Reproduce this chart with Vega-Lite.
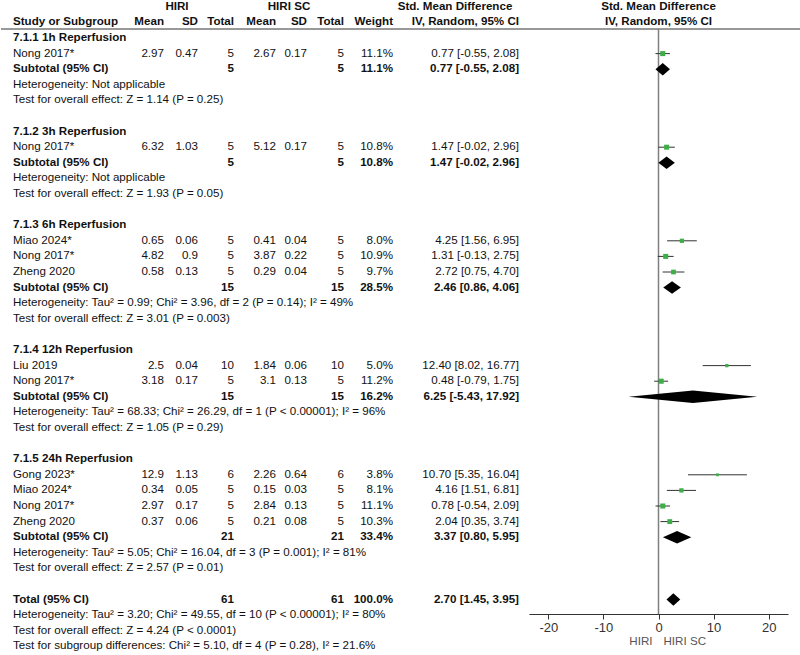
{
  "$schema": "https://vega.github.io/schema/vega-lite/v6.json",
  "padding": 0,
  "spacing": 0,
  "bounds": "flush",
  "config": {
    "view": {"stroke": null},
    "text": {"font": "Liberation Sans", "fontSize": 11.6, "color": "#111111", "baseline": "middle"},
    "axis": {"labelFont": "Liberation Sans", "labelFontSize": 13, "labelColor": "#333333", "domainColor": "#333333", "tickColor": "#333333", "tickSize": 5, "grid": false, "labelPadding": 2, "labelExpr": "'' + datum.value"}
  },
  "resolve": {"scale": {"y": "independent", "x": "independent"}},
  "datasets": {
    "rows": [
      {"row": -2, "kind": "group", "sd1": "HIRI", "sd2": "HIRI SC", "ci": "Std. Mean Difference", "p": "Std. Mean Difference"},
      {"row": -1, "kind": "header", "s": "Study or Subgroup", "m1": "Mean", "sd1": "SD", "n1": "Total", "m2": "Mean", "sd2": "SD", "n2": "Total", "w": "Weight", "ci": "IV, Random, 95% CI", "p": "IV, Random, 95% CI"},
      {"row": 0, "kind": "section", "s": "7.1.1 1h Reperfusion"},
      {"row": 1, "kind": "study", "s": "Nong 2017*", "m1": "2.97", "sd1": "0.47", "n1": "5", "m2": "2.67", "sd2": "0.17", "n2": "5", "w": "11.1%", "ci": "0.77 [-0.55, 2.08]", "est": 0.77, "lo": -0.55, "hi": 2.08, "wt": 11.1},
      {"row": 2, "kind": "subtotal", "s": "Subtotal (95% CI)", "n1": "5", "n2": "5", "w": "11.1%", "ci": "0.77 [-0.55, 2.08]", "est": 0.77, "lo": -0.55, "hi": 2.08},
      {"row": 3, "kind": "note", "s": "Heterogeneity: Not applicable"},
      {"row": 4, "kind": "note", "s": "Test for overall effect: Z = 1.14 (P = 0.25)"},
      {"row": 6, "kind": "section", "s": "7.1.2 3h Reperfusion"},
      {"row": 7, "kind": "study", "s": "Nong 2017*", "m1": "6.32", "sd1": "1.03", "n1": "5", "m2": "5.12", "sd2": "0.17", "n2": "5", "w": "10.8%", "ci": "1.47 [-0.02, 2.96]", "est": 1.47, "lo": -0.02, "hi": 2.96, "wt": 10.8},
      {"row": 8, "kind": "subtotal", "s": "Subtotal (95% CI)", "n1": "5", "n2": "5", "w": "10.8%", "ci": "1.47 [-0.02, 2.96]", "est": 1.47, "lo": -0.02, "hi": 2.96},
      {"row": 9, "kind": "note", "s": "Heterogeneity: Not applicable"},
      {"row": 10, "kind": "note", "s": "Test for overall effect: Z = 1.93 (P = 0.05)"},
      {"row": 12, "kind": "section", "s": "7.1.3 6h Reperfusion"},
      {"row": 13, "kind": "study", "s": "Miao 2024*", "m1": "0.65", "sd1": "0.06", "n1": "5", "m2": "0.41", "sd2": "0.04", "n2": "5", "w": "8.0%", "ci": "4.25 [1.56, 6.95]", "est": 4.25, "lo": 1.56, "hi": 6.95, "wt": 8.0},
      {"row": 14, "kind": "study", "s": "Nong 2017*", "m1": "4.82", "sd1": "0.9", "n1": "5", "m2": "3.87", "sd2": "0.22", "n2": "5", "w": "10.9%", "ci": "1.31 [-0.13, 2.75]", "est": 1.31, "lo": -0.13, "hi": 2.75, "wt": 10.9},
      {"row": 15, "kind": "study", "s": "Zheng 2020", "m1": "0.58", "sd1": "0.13", "n1": "5", "m2": "0.29", "sd2": "0.04", "n2": "5", "w": "9.7%", "ci": "2.72 [0.75, 4.70]", "est": 2.72, "lo": 0.75, "hi": 4.70, "wt": 9.7},
      {"row": 16, "kind": "subtotal", "s": "Subtotal (95% CI)", "n1": "15", "n2": "15", "w": "28.5%", "ci": "2.46 [0.86, 4.06]", "est": 2.46, "lo": 0.86, "hi": 4.06},
      {"row": 17, "kind": "note", "s": "Heterogeneity: Tau² = 0.99; Chi² = 3.96, df = 2 (P = 0.14); I² = 49%"},
      {"row": 18, "kind": "note", "s": "Test for overall effect: Z = 3.01 (P = 0.003)"},
      {"row": 20, "kind": "section", "s": "7.1.4 12h Reperfusion"},
      {"row": 21, "kind": "study", "s": "Liu 2019", "m1": "2.5", "sd1": "0.04", "n1": "10", "m2": "1.84", "sd2": "0.06", "n2": "10", "w": "5.0%", "ci": "12.40 [8.02, 16.77]", "est": 12.40, "lo": 8.02, "hi": 16.77, "wt": 5.0},
      {"row": 22, "kind": "study", "s": "Nong 2017*", "m1": "3.18", "sd1": "0.17", "n1": "5", "m2": "3.1", "sd2": "0.13", "n2": "5", "w": "11.2%", "ci": "0.48 [-0.79, 1.75]", "est": 0.48, "lo": -0.79, "hi": 1.75, "wt": 11.2},
      {"row": 23, "kind": "subtotal", "s": "Subtotal (95% CI)", "n1": "15", "n2": "15", "w": "16.2%", "ci": "6.25 [-5.43, 17.92]", "est": 6.25, "lo": -5.43, "hi": 17.92},
      {"row": 24, "kind": "note", "s": "Heterogeneity: Tau² = 68.33; Chi² = 26.29, df = 1 (P < 0.00001); I² = 96%"},
      {"row": 25, "kind": "note", "s": "Test for overall effect: Z = 1.05 (P = 0.29)"},
      {"row": 27, "kind": "section", "s": "7.1.5 24h Reperfusion"},
      {"row": 28, "kind": "study", "s": "Gong 2023*", "m1": "12.9", "sd1": "1.13", "n1": "6", "m2": "2.26", "sd2": "0.64", "n2": "6", "w": "3.8%", "ci": "10.70 [5.35, 16.04]", "est": 10.70, "lo": 5.35, "hi": 16.04, "wt": 3.8},
      {"row": 29, "kind": "study", "s": "Miao 2024*", "m1": "0.34", "sd1": "0.05", "n1": "5", "m2": "0.15", "sd2": "0.03", "n2": "5", "w": "8.1%", "ci": "4.16 [1.51, 6.81]", "est": 4.16, "lo": 1.51, "hi": 6.81, "wt": 8.1},
      {"row": 30, "kind": "study", "s": "Nong 2017*", "m1": "2.97", "sd1": "0.17", "n1": "5", "m2": "2.84", "sd2": "0.13", "n2": "5", "w": "11.1%", "ci": "0.78 [-0.54, 2.09]", "est": 0.78, "lo": -0.54, "hi": 2.09, "wt": 11.1},
      {"row": 31, "kind": "study", "s": "Zheng 2020", "m1": "0.37", "sd1": "0.06", "n1": "5", "m2": "0.21", "sd2": "0.08", "n2": "5", "w": "10.3%", "ci": "2.04 [0.35, 3.74]", "est": 2.04, "lo": 0.35, "hi": 3.74, "wt": 10.3},
      {"row": 32, "kind": "subtotal", "s": "Subtotal (95% CI)", "n1": "21", "n2": "21", "w": "33.4%", "ci": "3.37 [0.80, 5.95]", "est": 3.37, "lo": 0.80, "hi": 5.95},
      {"row": 33, "kind": "note", "s": "Heterogeneity: Tau² = 5.05; Chi² = 16.04, df = 3 (P = 0.001); I² = 81%"},
      {"row": 34, "kind": "note", "s": "Test for overall effect: Z = 2.57 (P = 0.01)"},
      {"row": 36, "kind": "subtotal", "s": "Total (95% CI)", "n1": "61", "n2": "61", "w": "100.0%", "ci": "2.70 [1.45, 3.95]", "est": 2.70, "lo": 1.45, "hi": 3.95},
      {"row": 37, "kind": "note", "s": "Heterogeneity: Tau² = 3.20; Chi² = 49.55, df = 10 (P < 0.00001); I² = 80%"},
      {"row": 38, "kind": "note", "s": "Test for overall effect: Z = 4.24 (P < 0.0001)"},
      {"row": 39, "kind": "note", "s": "Test for subgroup differences: Chi² = 5.10, df = 4 (P = 0.28), I² = 21.6%"}
    ]
  },
  "data": {"name": "rows"},
  "hconcat": [
    {
      "width": 130, "height": 655,
      "layer": [
        {"transform": [{"filter": "isValid(datum.s) && (datum.kind == 'study' || datum.kind == 'note')"}],
         "mark": {"type": "text", "align": "left", "dx": 12},
         "encoding": {"x": {"value": 0}, "y": {"field": "row", "type": "quantitative", "scale": {"domain": [-2.436, 39.551], "reverse": true, "nice": false, "zero": false}, "axis": null}, "text": {"field": "s"}}},
        {"transform": [{"filter": "isValid(datum.s) && (datum.kind == 'section' || datum.kind == 'subtotal' || datum.kind == 'header')"}],
         "mark": {"type": "text", "align": "left", "dx": 12, "fontWeight": "bold"},
         "encoding": {"x": {"value": 0}, "y": {"field": "row", "type": "quantitative", "axis": null}, "text": {"field": "s"}}},
        {"data": {"values": [{}]}, "mark": {"type": "rule", "color": "#333333"}, "encoding": {"y": {"datum": -0.577, "axis": null}}}
      ]
    },
    {
      "width": 33, "height": 655,
      "layer": [
        {"transform": [{"filter": "isValid(datum.m1) && (datum.kind == 'study' || datum.kind == 'note')"}],
         "mark": {"type": "text", "align": "right"},
         "encoding": {"x": {"value": "width"}, "y": {"field": "row", "type": "quantitative", "scale": {"domain": [-2.436, 39.551], "reverse": true, "nice": false, "zero": false}, "axis": null}, "text": {"field": "m1"}}},
        {"transform": [{"filter": "isValid(datum.m1) && (datum.kind == 'section' || datum.kind == 'subtotal' || datum.kind == 'header')"}],
         "mark": {"type": "text", "align": "right", "fontWeight": "bold"},
         "encoding": {"x": {"value": "width"}, "y": {"field": "row", "type": "quantitative", "axis": null}, "text": {"field": "m1"}}},
        {"data": {"values": [{}]}, "mark": {"type": "rule", "color": "#333333"}, "encoding": {"y": {"datum": -0.577, "axis": null}}}
      ]
    },
    {
      "width": 34, "height": 655,
      "layer": [
        {"transform": [{"filter": "isValid(datum.sd1) && (datum.kind == 'study' || datum.kind == 'note')"}],
         "mark": {"type": "text", "align": "right"},
         "encoding": {"x": {"value": "width"}, "y": {"field": "row", "type": "quantitative", "scale": {"domain": [-2.436, 39.551], "reverse": true, "nice": false, "zero": false}, "axis": null}, "text": {"field": "sd1"}}},
        {"transform": [{"filter": "isValid(datum.sd1) && (datum.kind == 'section' || datum.kind == 'subtotal' || datum.kind == 'header')"}],
         "mark": {"type": "text", "align": "right", "fontWeight": "bold"},
         "encoding": {"x": {"value": "width"}, "y": {"field": "row", "type": "quantitative", "axis": null}, "text": {"field": "sd1"}}},
        {"transform": [{"filter": "datum.kind == 'group'"}],
         "mark": {"type": "text", "align": "center", "fontWeight": "bold", "dx": -21},
         "encoding": {"x": {"value": "width"}, "y": {"field": "row", "type": "quantitative", "axis": null}, "text": {"field": "sd1"}}},
        {"data": {"values": [{}]}, "mark": {"type": "rule", "color": "#333333"}, "encoding": {"y": {"datum": -0.577, "axis": null}}}
      ]
    },
    {
      "width": 36, "height": 655,
      "layer": [
        {"transform": [{"filter": "isValid(datum.n1) && (datum.kind == 'study' || datum.kind == 'note')"}],
         "mark": {"type": "text", "align": "right"},
         "encoding": {"x": {"value": "width"}, "y": {"field": "row", "type": "quantitative", "scale": {"domain": [-2.436, 39.551], "reverse": true, "nice": false, "zero": false}, "axis": null}, "text": {"field": "n1"}}},
        {"transform": [{"filter": "isValid(datum.n1) && (datum.kind == 'section' || datum.kind == 'subtotal' || datum.kind == 'header')"}],
         "mark": {"type": "text", "align": "right", "fontWeight": "bold"},
         "encoding": {"x": {"value": "width"}, "y": {"field": "row", "type": "quantitative", "axis": null}, "text": {"field": "n1"}}},
        {"data": {"values": [{}]}, "mark": {"type": "rule", "color": "#333333"}, "encoding": {"y": {"datum": -0.577, "axis": null}}}
      ]
    },
    {
      "width": 42, "height": 655,
      "layer": [
        {"transform": [{"filter": "isValid(datum.m2) && (datum.kind == 'study' || datum.kind == 'note')"}],
         "mark": {"type": "text", "align": "right"},
         "encoding": {"x": {"value": "width"}, "y": {"field": "row", "type": "quantitative", "scale": {"domain": [-2.436, 39.551], "reverse": true, "nice": false, "zero": false}, "axis": null}, "text": {"field": "m2"}}},
        {"transform": [{"filter": "isValid(datum.m2) && (datum.kind == 'section' || datum.kind == 'subtotal' || datum.kind == 'header')"}],
         "mark": {"type": "text", "align": "right", "fontWeight": "bold"},
         "encoding": {"x": {"value": "width"}, "y": {"field": "row", "type": "quantitative", "axis": null}, "text": {"field": "m2"}}},
        {"data": {"values": [{}]}, "mark": {"type": "rule", "color": "#333333"}, "encoding": {"y": {"datum": -0.577, "axis": null}}}
      ]
    },
    {
      "width": 31, "height": 655,
      "layer": [
        {"transform": [{"filter": "isValid(datum.sd2) && (datum.kind == 'study' || datum.kind == 'note')"}],
         "mark": {"type": "text", "align": "right"},
         "encoding": {"x": {"value": "width"}, "y": {"field": "row", "type": "quantitative", "scale": {"domain": [-2.436, 39.551], "reverse": true, "nice": false, "zero": false}, "axis": null}, "text": {"field": "sd2"}}},
        {"transform": [{"filter": "isValid(datum.sd2) && (datum.kind == 'section' || datum.kind == 'subtotal' || datum.kind == 'header')"}],
         "mark": {"type": "text", "align": "right", "fontWeight": "bold"},
         "encoding": {"x": {"value": "width"}, "y": {"field": "row", "type": "quantitative", "axis": null}, "text": {"field": "sd2"}}},
        {"transform": [{"filter": "datum.kind == 'group'"}],
         "mark": {"type": "text", "align": "center", "fontWeight": "bold", "dx": -18},
         "encoding": {"x": {"value": "width"}, "y": {"field": "row", "type": "quantitative", "axis": null}, "text": {"field": "sd2"}}},
        {"data": {"values": [{}]}, "mark": {"type": "rule", "color": "#333333"}, "encoding": {"y": {"datum": -0.577, "axis": null}}}
      ]
    },
    {
      "width": 37, "height": 655,
      "layer": [
        {"transform": [{"filter": "isValid(datum.n2) && (datum.kind == 'study' || datum.kind == 'note')"}],
         "mark": {"type": "text", "align": "right"},
         "encoding": {"x": {"value": "width"}, "y": {"field": "row", "type": "quantitative", "scale": {"domain": [-2.436, 39.551], "reverse": true, "nice": false, "zero": false}, "axis": null}, "text": {"field": "n2"}}},
        {"transform": [{"filter": "isValid(datum.n2) && (datum.kind == 'section' || datum.kind == 'subtotal' || datum.kind == 'header')"}],
         "mark": {"type": "text", "align": "right", "fontWeight": "bold"},
         "encoding": {"x": {"value": "width"}, "y": {"field": "row", "type": "quantitative", "axis": null}, "text": {"field": "n2"}}},
        {"data": {"values": [{}]}, "mark": {"type": "rule", "color": "#333333"}, "encoding": {"y": {"datum": -0.577, "axis": null}}}
      ]
    },
    {
      "width": 49, "height": 655,
      "layer": [
        {"transform": [{"filter": "isValid(datum.w) && (datum.kind == 'study' || datum.kind == 'note')"}],
         "mark": {"type": "text", "align": "right"},
         "encoding": {"x": {"value": "width"}, "y": {"field": "row", "type": "quantitative", "scale": {"domain": [-2.436, 39.551], "reverse": true, "nice": false, "zero": false}, "axis": null}, "text": {"field": "w"}}},
        {"transform": [{"filter": "isValid(datum.w) && (datum.kind == 'section' || datum.kind == 'subtotal' || datum.kind == 'header')"}],
         "mark": {"type": "text", "align": "right", "fontWeight": "bold"},
         "encoding": {"x": {"value": "width"}, "y": {"field": "row", "type": "quantitative", "axis": null}, "text": {"field": "w"}}},
        {"data": {"values": [{}]}, "mark": {"type": "rule", "color": "#333333"}, "encoding": {"y": {"datum": -0.577, "axis": null}}}
      ]
    },
    {
      "width": 136, "height": 655,
      "layer": [
        {"transform": [{"filter": "isValid(datum.ci) && (datum.kind == 'study' || datum.kind == 'note')"}],
         "mark": {"type": "text", "align": "right", "dx": -10},
         "encoding": {"x": {"value": "width"}, "y": {"field": "row", "type": "quantitative", "scale": {"domain": [-2.436, 39.551], "reverse": true, "nice": false, "zero": false}, "axis": null}, "text": {"field": "ci"}}},
        {"transform": [{"filter": "isValid(datum.ci) && (datum.kind == 'section' || datum.kind == 'subtotal' || datum.kind == 'header')"}],
         "mark": {"type": "text", "align": "right", "fontWeight": "bold", "dx": -10},
         "encoding": {"x": {"value": "width"}, "y": {"field": "row", "type": "quantitative", "axis": null}, "text": {"field": "ci"}}},
        {"transform": [{"filter": "datum.kind == 'group'"}],
         "mark": {"type": "text", "align": "center", "fontWeight": "bold", "dx": -74},
         "encoding": {"x": {"value": "width"}, "y": {"field": "row", "type": "quantitative", "axis": null}, "text": {"field": "ci"}}},
        {"data": {"values": [{}]}, "mark": {"type": "rule", "color": "#333333"}, "encoding": {"y": {"datum": -0.577, "axis": null}}}
      ]
    },
    {
      "width": 259, "height": 614,
      "layer": [
        {"data": {"values": [{}]}, "mark": {"type": "rule", "color": "#333333"},
         "encoding": {"y": {"datum": -0.577, "type": "quantitative", "scale": {"domain": [-2.436, 36.923], "reverse": true, "nice": false, "zero": false}, "axis": null}}},
        {"data": {"values": [{}]}, "mark": {"type": "rule", "color": "#7f7f7f", "strokeWidth": 1.5},
         "encoding": {"x": {"datum": 0, "type": "quantitative", "scale": {"domain": [-23.5, 23.5], "nice": false, "zero": false}, "axis": {"title": null, "values": [-20, -10, 0, 10, 20]}}, "y": {"datum": -0.577, "axis": null}, "y2": {"value": "height"}}},
        {"transform": [{"filter": "datum.kind == 'study'"}],
         "mark": {"type": "rule", "color": "#333333"},
         "encoding": {"x": {"field": "lo", "type": "quantitative", "axis": {"title": null, "values": [-20, -10, 0, 10, 20]}}, "x2": {"field": "hi"}, "y": {"field": "row", "type": "quantitative", "axis": null}}},
        {"transform": [{"filter": "datum.kind == 'study'"}],
         "mark": {"type": "square", "filled": true, "color": "#3fae49", "opacity": 1},
         "encoding": {"x": {"field": "est", "type": "quantitative", "axis": {"title": null, "values": [-20, -10, 0, 10, 20]}}, "y": {"field": "row", "type": "quantitative", "axis": null}, "size": {"field": "wt", "type": "quantitative", "scale": {"domain": [3.8, 11.2], "range": [8, 26]}, "legend": null}}},
        {"transform": [
           {"filter": "datum.kind == 'subtotal' && isValid(datum.est)"},
           {"fold": ["lo", "est", "hi"], "as": ["k", "xv"]},
           {"calculate": "datum.k == 'est' ? datum.row - 0.4 : datum.row", "as": "yt"},
           {"calculate": "datum.k == 'est' ? datum.row + 0.4 : datum.row", "as": "yb"}],
         "mark": {"type": "area", "color": "#000000", "orient": "vertical"},
         "encoding": {"x": {"field": "xv", "type": "quantitative", "axis": {"title": null, "values": [-20, -10, 0, 10, 20]}}, "y": {"field": "yt", "type": "quantitative", "axis": null}, "y2": {"field": "yb"}, "detail": {"field": "row", "type": "nominal"}}},
        {"transform": [{"filter": "isValid(datum.p)"}],
         "mark": {"type": "text", "align": "center", "fontWeight": "bold"},
         "encoding": {"x": {"datum": 0, "axis": {"title": null, "values": [-20, -10, 0, 10, 20]}}, "y": {"field": "row", "type": "quantitative", "axis": null}, "text": {"field": "p"}}},
        {"data": {"values": [{"lab": "HIRI"}]},
         "mark": {"type": "text", "align": "right", "dx": -6, "dy": 28, "color": "#555555"},
         "encoding": {"x": {"datum": 0, "axis": {"title": null, "values": [-20, -10, 0, 10, 20]}}, "y": {"value": "height"}, "text": {"field": "lab"}}},
        {"data": {"values": [{"lab": "HIRI SC"}]},
         "mark": {"type": "text", "align": "left", "dx": 5, "dy": 28, "color": "#555555"},
         "encoding": {"x": {"datum": 0, "axis": {"title": null, "values": [-20, -10, 0, 10, 20]}}, "y": {"value": "height"}, "text": {"field": "lab"}}}
      ]
    },
    {
      "width": 13, "height": 655,
      "layer": [
        {"data": {"values": [{}]}, "mark": {"type": "rule", "color": "#333333"},
         "encoding": {"y": {"datum": -0.577, "type": "quantitative", "scale": {"domain": [-2.436, 39.551], "reverse": true, "nice": false, "zero": false}, "axis": null}}}
      ]
    }
  ]
}
